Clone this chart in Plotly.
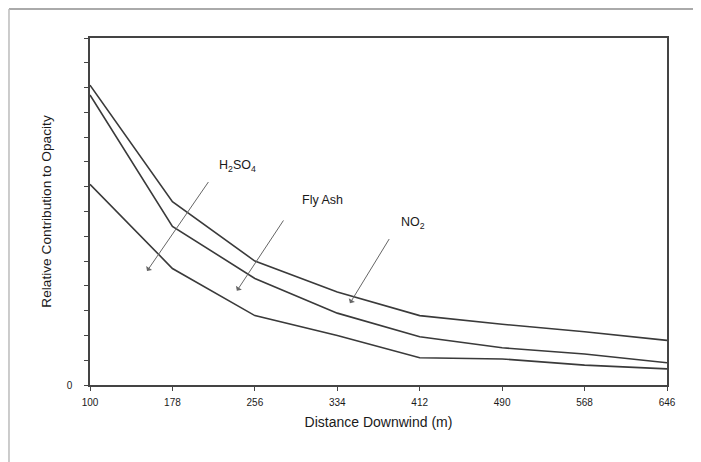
import plotly.graph_objects as go

distance = [100, 178, 256, 334, 412, 490, 568, 646]
no2 = [12.1, 7.4, 5.0, 3.75, 2.8, 2.45, 2.15, 1.8]
fly_ash = [11.7, 6.4, 4.3, 2.9, 1.95, 1.5, 1.25, 0.9]
h2so4 = [8.1, 4.7, 2.8, 2.0, 1.1, 1.05, 0.8, 0.65]

x_ticks = [100, 178, 256, 334, 412, 490, 568, 646]
y_tickvals = list(range(0, 15))
y_ticktext = ["0"] + [""] * 14

line_color = "#3a3a3a"
font_family = "Liberation Sans, Arial, sans-serif"

fig = go.Figure()
for name, vals in [("NO2", no2), ("Fly Ash", fly_ash), ("H2SO4", h2so4)]:
    fig.add_trace(go.Scatter(x=distance, y=vals, mode="lines", name=name,
                             line=dict(color=line_color, width=1.6),
                             showlegend=False))

# leader annotations: (label, text_x, text_y, tail_x, tail_y, tip_x, tip_y)
labels = [
    ("H<sub>2</sub>SO<sub>4</sub>", 240, 8.85, 213, 8.25, 154, 4.6),
    ("Fly Ash", 320, 7.45, 284, 6.7, 239, 3.8),
    ("NO<sub>2</sub>", 406, 6.55, 384, 5.95, 346, 3.3),
]
for txt, tx, ty, ax_, ay_, px, py in labels:
    fig.add_annotation(x=tx, y=ty, text=txt, showarrow=False,
                       font=dict(family=font_family, size=12.5, color="#1a1a1a"))
    fig.add_annotation(x=px, y=py, ax=ax_, ay=ay_, axref="x", ayref="y",
                       text="", showarrow=True, arrowhead=1, arrowsize=1.2,
                       arrowwidth=1, arrowcolor="#666")

fig.update_layout(
    width=693, height=454,
    margin=dict(l=82, r=34, t=30, b=77),
    paper_bgcolor="white", plot_bgcolor="white",
    font=dict(family=font_family, size=10, color="#1a1a1a"),
    xaxis=dict(range=[100, 646], tickvals=x_ticks, ticks="outside", ticklen=4,
               ticklabelstandoff=3,
               showline=True, linecolor="#444", linewidth=1.5, mirror=True,
               showgrid=False, zeroline=False,
               title=dict(text="Distance Downwind (m)", standoff=10,
                          font=dict(size=14, family=font_family, color="#1a1a1a"))),
    yaxis=dict(range=[0, 14], tickvals=y_tickvals, ticktext=y_ticktext,
               ticks="outside", ticklen=4, ticklabelstandoff=10,
               showline=True, linecolor="#444", linewidth=1.5, mirror=True,
               showgrid=False, zeroline=False,
               title=dict(text="Relative Contribution to Opacity", standoff=12,
                          font=dict(size=13.7, family=font_family, color="#1a1a1a"))),
    shapes=[
        dict(type="line", xref="paper", yref="paper", x0=-0.1404, x1=1.06,
             y0=1.0836, y1=1.0836, line=dict(color="#aaa", width=2)),
        dict(type="line", xref="paper", yref="paper", x0=-0.1404, x1=-0.1404,
             y0=1.0836, y1=-0.222, line=dict(color="#bbb", width=1.5)),
    ],
)

fig.write_html("out.html")
